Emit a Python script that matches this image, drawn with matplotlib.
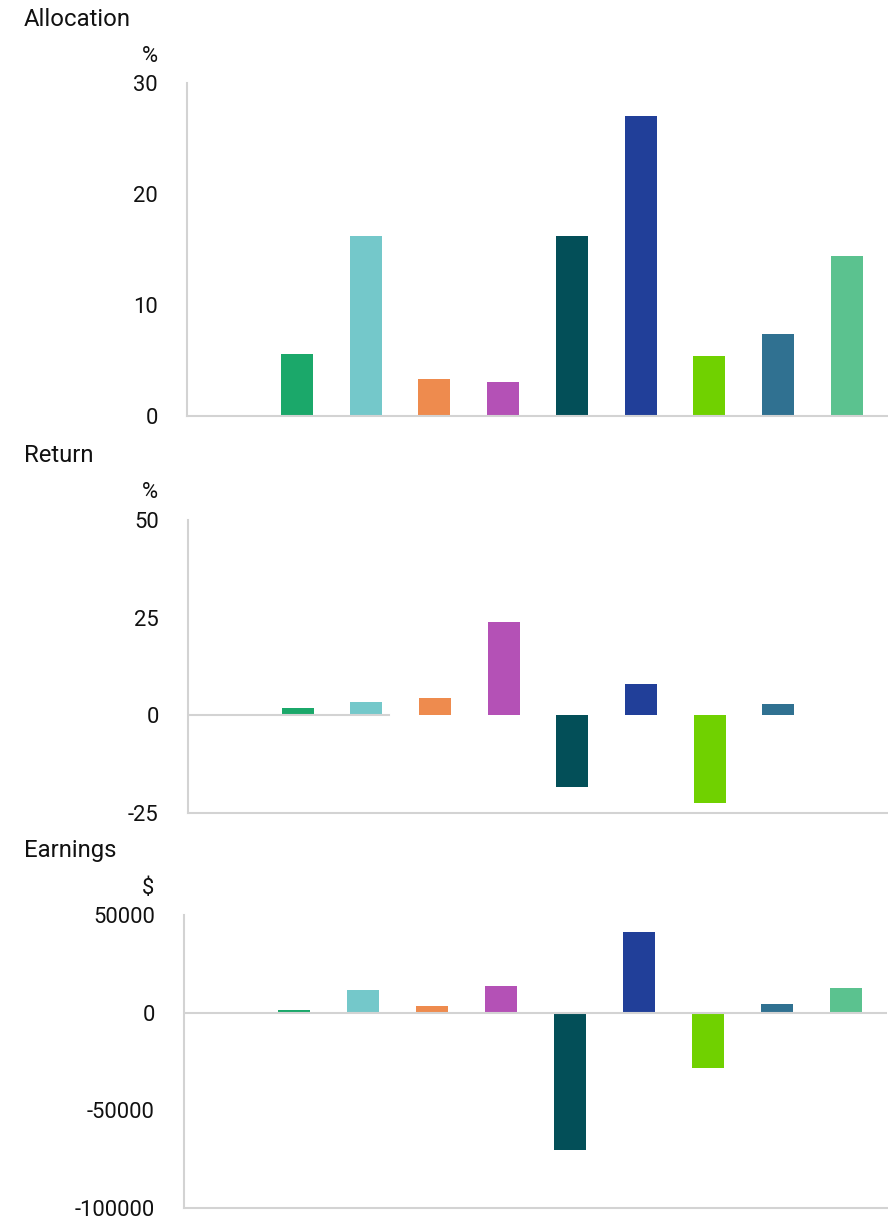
"""Three stacked bar panels: allocation, return and earnings per holding."""
import numpy as np
import matplotlib
matplotlib.use("Agg")
import matplotlib.pyplot as plt

plt.rcParams["font.family"] = ["Roboto", "DejaVu Sans"]
plt.rcParams["axes.unicode_minus"] = False

# ten slots, the first one is empty in every panel
slots = np.arange(10)
colors = ["#FFFFFF", "#1BA86A", "#74C8CA", "#EE8B4E", "#B451B6",
          "#034F58", "#213F99", "#70D100", "#307191", "#5BC28F"]

allocation = [np.nan, 5.6, 16.2, 3.3, 3.1, 16.2, 27.0, 5.4, 7.4, 14.4]
returns = [np.nan, 1.7, 3.3, 4.3, 23.8, -18.3, 7.9, -22.4, 2.8, np.nan]
earnings = [np.nan, 1400, 11600, 3400, 13700, -70200, 41300, -28300, 4400, 12600]

alloc_ticks = [0, 10, 20, 30]
ret_ticks = [-25, 0, 25, 50]
earn_ticks = [-100000, -50000, 0, 50000]

W, H = 888, 1219
GRID = "#D3D3D3"
fig = plt.figure(figsize=(W / 100, H / 100), dpi=100)


def px_axes(left, right, top, bottom):
    return fig.add_axes([left / W, 1 - bottom / H, (right - left) / W,
                         (bottom - top) / H])


def style(ax, ticks):
    for s in ("top", "right"):
        ax.spines[s].set_visible(False)
    for s in ("left", "bottom"):
        ax.spines[s].set_color(GRID)
        ax.spines[s].set_linewidth(1.5)
    ax.set_xticks([])
    ax.set_yticks(ticks)
    ax.set_ylim(ticks[0], ticks[-1])
    ax.set_xlim(-0.6, 9.6)
    ax.tick_params(axis="y", length=0, pad=21, labelsize=15.8, labelcolor="#111111")


ax1 = px_axes(187, 888, 83, 416)
ax1.bar(slots, allocation, width=0.465, color=colors)
style(ax1, alloc_ticks)

ax2 = px_axes(188, 888, 520, 812.7)
ax2.bar(slots, returns, width=0.465, color=colors)
style(ax2, ret_ticks)
ax2.axhline(0, xmin=0, xmax=0.287, color=GRID, lw=1.5, zorder=3)

ax3 = px_axes(184, 887, 914.9, 1208.3)
ax3.bar(slots, earnings, width=0.465, color=colors)
style(ax3, earn_ticks)
ax3.axhline(0, color=GRID, lw=1.5, zorder=3)

# panel titles and units
for label, y in [("Allocation", 19), ("Return", 455), ("Earnings", 851)]:
    fig.text(24 / W, 1 - y / H, label, fontsize=17.2, va="center", ha="left",
             color="#111111")
for unit, x, y in [("%", 158, 56), ("%", 158, 493), ("$", 154, 888)]:
    fig.text(x / W, 1 - y / H, unit, fontsize=15.8, va="center", ha="right",
             color="#111111")

fig.savefig("out.png", dpi=100)
